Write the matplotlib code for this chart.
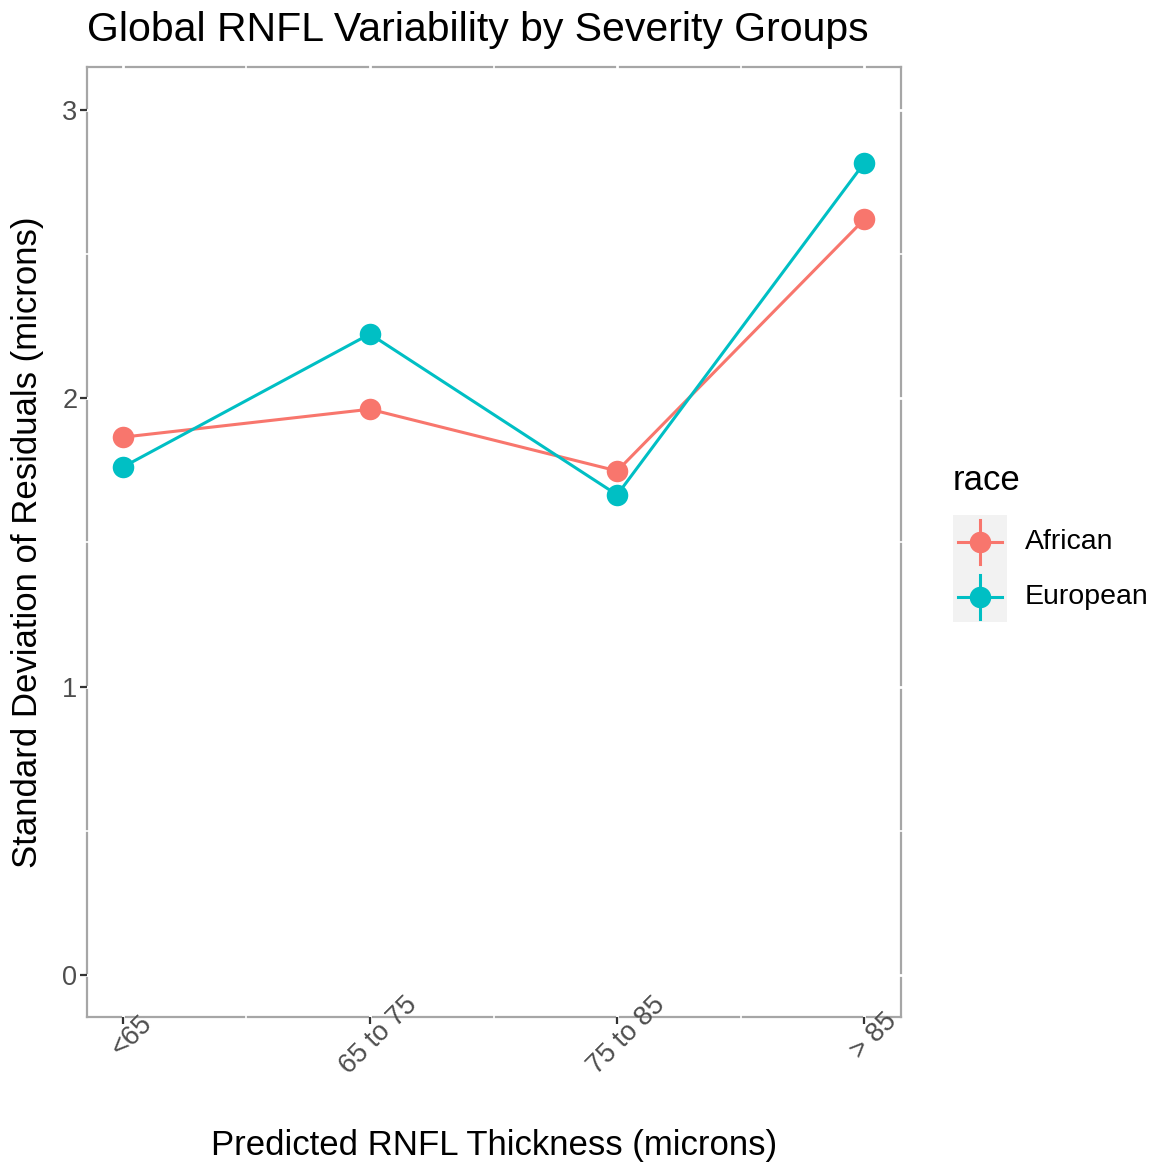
import matplotlib
matplotlib.use('Agg')
import matplotlib.pyplot as plt

plt.rcParams['font.family'] = ['Liberation Sans', 'DejaVu Sans']

groups = ['<65', '65 to 75', '75 to 85', '> 85']
african = [1.865, 1.962, 1.748, 2.621]
european = [1.761, 2.223, 1.665, 2.817]
races = ['African', 'European']
colours = {'African': '#F8766D', 'European': '#00BFC4'}
yticks = [0, 1, 2, 3]

W, H = 1161, 1167
fig = plt.figure(figsize=(W / 100, H / 100), dpi=100)
ax = fig.add_axes([87 / W, 1 - 1017 / H, (901 - 87) / W, (1017 - 67) / H])
ax.set_axisbelow(False)

xs = list(range(1, len(groups) + 1))
for name, vals in zip(races, [african, european]):
    ax.plot(xs, vals, color=colours[name], lw=2.2, zorder=4)
    ax.plot(xs, vals, 'o', color=colours[name], ms=15.5, mew=0, zorder=5)

ax.set_xlim(0.856, 4.148)
ax.set_ylim(-0.146, 3.149)
ax.set_xticks(xs)
ax.set_xticklabels(groups)
ax.set_yticks(yticks)
ax.set_yticklabels([str(t) for t in yticks])

for s in ax.spines.values():
    s.set_color('#A6A6A6')
    s.set_linewidth(1.6)
    s.set_zorder(1)

# white grid lines (only show where they cross the border)
gx = [1, 1.5, 2, 2.5, 3, 3.5, 4]
gy = [0, 0.5, 1, 1.5, 2, 2.5, 3]
for v in gx:
    ax.plot([v, v], [-0.002, 1.002], color='white', lw=2.0 if v % 1 == 0 else 1.2,
            transform=ax.get_xaxis_transform(), clip_on=False, zorder=2)
for v in gy:
    ax.plot([-0.002, 1.002], [v, v], color='white', lw=2.0 if v % 1 == 0 else 1.2,
            transform=ax.get_yaxis_transform(), clip_on=False, zorder=2)

ax.tick_params(axis='both', length=5, width=1.6, color='#333333', labelcolor='#4D4D4D',
               labelsize=19.5, pad=2)
for lab in ax.get_xticklabels():
    lab.set_rotation(45)
    lab.set_rotation_mode('anchor')
    lab.set_ha('center')
    lab.set_va('top')

fig.text(87 / W, 1 - 30 / H, 'Global RNFL Variability by Severity Groups',
         fontsize=29.5, ha='left', va='center')
fig.text(494 / W, 1 - 1145 / H, 'Predicted RNFL Thickness (microns)',
         fontsize=25, ha='center', va='center')
fig.text(28 / W, 1 - 542 / H, 'Standard Deviation of Residuals (microns)',
         fontsize=25, ha='center', va='center', rotation=90)

# legend
fig.text(953 / W, 1 - 481 / H, 'race', fontsize=25, ha='left', va='center')
lax = fig.add_axes([953 / W, 1 - 622 / H, 54 / W, 107 / H])
lax.set_xlim(0, 54)
lax.set_ylim(107, 0)
lax.axis('off')
lax.add_patch(plt.Rectangle((0, 0), 54, 107, color='#F2F2F2', zorder=0))
for i, name in enumerate(races):
    cy = 27 + 55 * i
    c = colours[name]
    lax.plot([5, 49], [cy, cy], color=c, lw=2.2)
    lax.plot([27, 27], [cy - 22, cy + 22], color=c, lw=2.2)
    lax.plot([27], [cy], 'o', color=c, ms=15.5, mew=0)
    fig.text(1025 / W, 1 - (515 + cy) / H, name, fontsize=20.5, ha='left', va='center')

fig.savefig('out.png', dpi=100, facecolor='white')
